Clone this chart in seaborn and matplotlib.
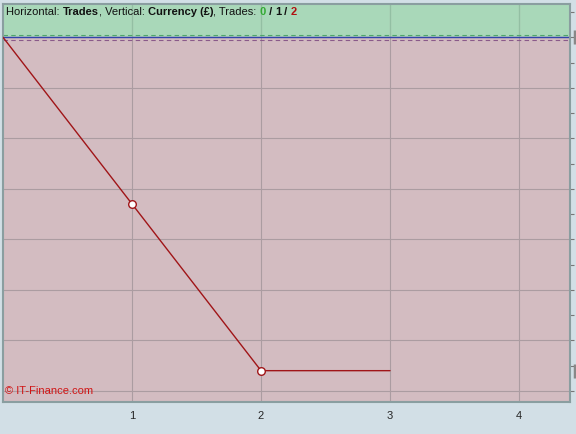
import numpy as np
import matplotlib
matplotlib.use("Agg")
import matplotlib.pyplot as plt
import pandas as pd
import seaborn as sns

# equity curve per trade (currency, £)
trades = [0, 1, 2, 3]
equity = [0, -330, -660, -660]
marked_trades = [1, 2]
marked_equity = [-330, -660]
x_ticks = [1, 2, 3, 4]
right_ticks = list(range(50, -701, -50))
h_grid = list(range(-700, 1, 100))

df = pd.DataFrame({"Trade": trades, "Equity": equity})
pts = pd.DataFrame({"Trade": marked_trades, "Equity": marked_equity})

sns.set_style("white")
plt.rcParams['font.family'] = ['Liberation Sans', 'DejaVu Sans']

fig = plt.figure(figsize=(5.76, 4.35), dpi=100, facecolor="#d2dfe6")
ax = fig.add_axes([0.0052, 0.0736, 0.9844, 0.915])

ymin, ymax = -722, 66
ax.set_xlim(0, 4.395)
ax.set_ylim(ymin, ymax)

# profit / loss zones
ax.axhspan(0, ymax, color="#a9d8b9", zorder=0)
ax.axhspan(ymin, 0, color="#d3bcc1", zorder=0)

for g in h_grid:
    ax.axhline(g, color="#ab9ca1", lw=0.8, zorder=1)
for t in x_ticks:
    ax.axvline(t, color="#ab9ca1", lw=0.8, zorder=1)
    ax.plot([t, t], [0, ymax], color="#93bfa3", lw=0.8, zorder=1)

ax.axhline(4, color="#4fa66d", lw=0.8, ls=(0, (4, 3)), zorder=2)
ax.axhline(-5, color="#8a5a8a", lw=0.8, ls=(0, (4, 3)), zorder=2)
ax.axhline(0, color="#3344aa", lw=1.0, zorder=2)

sns.lineplot(data=df, x="Trade", y="Equity", color="#a01518", lw=1.0, ax=ax, zorder=3)
sns.scatterplot(data=pts, x="Trade", y="Equity", s=30, facecolor="white",
                edgecolor="#a01518", linewidth=1.0, ax=ax, zorder=4)

ax.set_xticks(x_ticks)
ax.set_xticklabels([str(t) for t in x_ticks], fontsize=8)
ax.tick_params(axis="x", direction="out", length=4, width=0.8, color="#777777", pad=2)
ax.set_yticks(right_ticks)
ax.yaxis.tick_right()
ax.tick_params(axis="y", direction="out", length=3, width=0.8, color="#777777", labelright=False)
ax.set_xlabel("")
ax.set_ylabel("")

# level markers on the right edge
for lv in [0, -660]:
    ax.plot([4.43, 4.43], [lv - 14, lv + 14], color="#888888", lw=2.5,
            clip_on=False, solid_capstyle="butt")

for s in ax.spines.values():
    s.set_color("#8a9ea0")
    s.set_linewidth(1.5)

# header text
parts = [("Horizontal: ", "normal", "#111111"), ("Trades", "bold", "#111111"),
         (", Vertical: ", "normal", "#111111"), ("Currency (£)", "bold", "#111111"),
         (", Trades: ", "normal", "#111111"), ("0", "bold", "#33aa33"),
         (" / ", "bold", "#111111"), ("1", "bold", "#111111"),
         (" / ", "bold", "#111111"), ("2", "bold", "#b01010")]
fig.canvas.draw()
r = fig.canvas.get_renderer()
xpos = 6
for txt, w, c in parts:
    t = fig.text(xpos / 576, 1 - 12 / 435, txt, fontsize=8, fontweight=w, color=c,
                 ha="left", va="center")
    xpos += t.get_window_extent(renderer=r).width

ax.text(0.004, 0.018, "© IT-Finance.com", transform=ax.transAxes, fontsize=8,
        color="#d01515", ha="left", va="bottom", zorder=5)

plt.savefig("out.png", dpi=100, facecolor=fig.get_facecolor())
